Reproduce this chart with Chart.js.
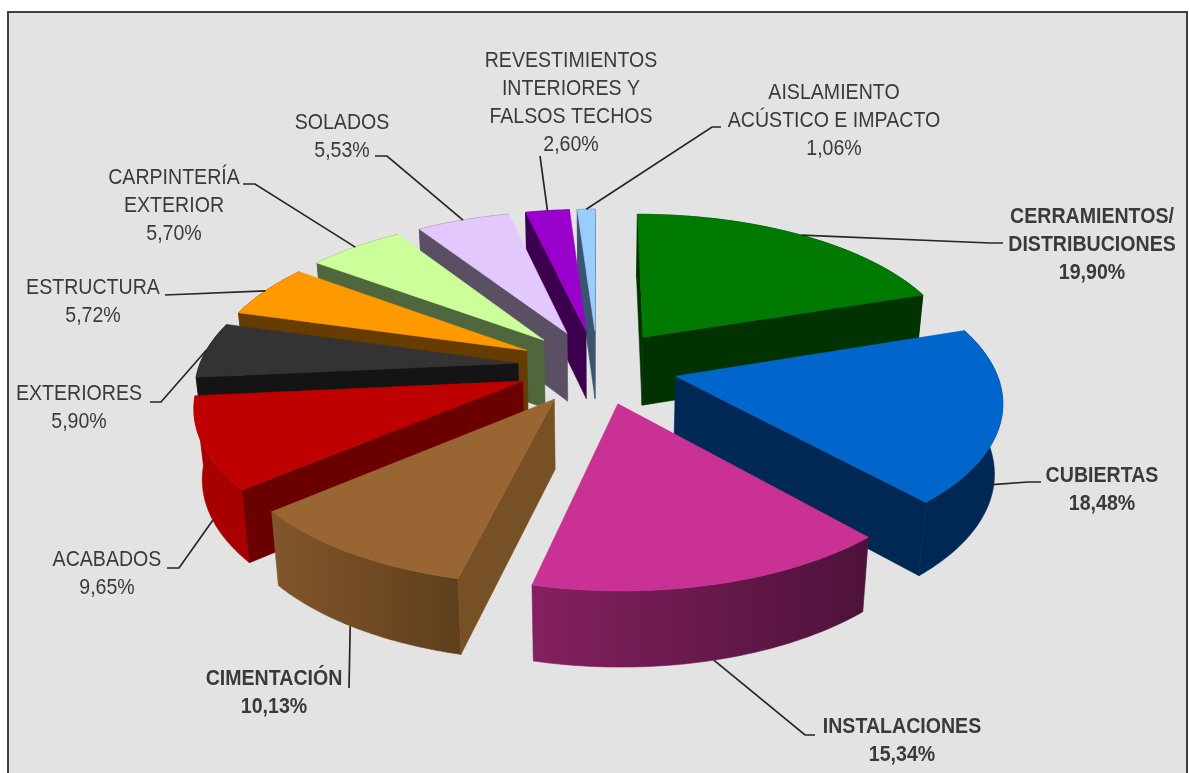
<!DOCTYPE html>
<html lang="es">
<head>
<meta charset="utf-8">
<title>Tarta 3D</title>
<script src="https://cdn.jsdelivr.net/npm/chart.js@4"></script>
<style>
    html, body { margin: 0; padding: 0; background: #fff; }
    canvas { display: block; }
</style>
</head>
<body>
<canvas id="tarta" width="1189" height="773"></canvas>
<script>
// Datos
const categories = [
    ['CERRAMIENTOS/', 'DISTRIBUCIONES'],
    ['CUBIERTAS'],
    ['INSTALACIONES'],
    ['CIMENTACIÓN'],
    ['ACABADOS'],
    ['EXTERIORES'],
    ['ESTRUCTURA'],
    ['CARPINTERÍA', 'EXTERIOR'],
    ['SOLADOS'],
    ['REVESTIMIENTOS', 'INTERIORES Y', 'FALSOS TECHOS'],
    ['AISLAMIENTO', 'ACÚSTICO E IMPACTO']
];
const values = [19.90, 18.48, 15.34, 10.13, 9.65, 5.90, 5.72, 5.70, 5.53, 2.60, 1.06];

// Colores: cara superior, paredes radiales y pared exterior (izquierda, derecha)
const topColors = ['#007a00', '#0066cc', '#c93194', '#996633', '#bf0000', '#333333', '#ff9900', '#ccff99', '#e2c8fc', '#9900cc', '#99ccff'];
const sideColors = ['#003300', '#002855', '#4d123a', '#775026', '#6b0000', '#141414', '#663c00', '#50663c', '#5a4f63', '#3d004f', '#3a5470'];
const rimLeft = ['#003300', '#002855', '#85205f', '#82562b', '#a80000', '#141414', '#663c00', '#50663c', '#5a4f63', '#3d004f', '#3a5470'];
const rimRight = ['#003300', '#002855', '#4d123a', '#5f3f1d', '#a80000', '#141414', '#663c00', '#50663c', '#5a4f63', '#3d004f', '#3a5470'];

// Etiquetas: centro del texto, primera linea, codo de la guia y punto de la tarta (fraccion de angulo, fraccion de altura)
const labelX = [1092, 1102, 902, 274, 107, 79, 93, 174, 342, 571, 834];
const labelY = [216, 475, 726, 678, 559, 393, 287, 177, 122, 60, 92];
const boldLabels = [true, true, true, true, false, false, false, false, false, false, false];
const elbows = [
    [[1003, 243], [990, 243]],
    [[1041, 482], [1028, 482]],
    [[815, 735], [805, 735]],
    [[349, 688]],
    [[167, 568], [179, 568]],
    [[150, 402], [161, 402]],
    [[165, 295]],
    [[243, 184], [255, 184]],
    [[375, 156], [387, 156]],
    [[540, 156]],
    [[721, 127], [712, 127]]
];
const leaderAngle = [0.5, 0.62, 0.5, 0.53, 0.45, 0.5, 0.5, 0.5, 0.5, 0.5, 0.5];
const leaderDepth = [0, 0.65, 1, 1, 1, 0, 0, 0, 0, 0, 0];

// Parametros de la perspectiva
const tilt = 0.465;
const persp = 0.00045;
const depth = 69;
const depthShrink = 0.0003;
const explode = 80;
const radius = 319;
const textWidth = 0.89;

function project(el, px, py, h) {
    const s = 1 / (1 - persp * py);
    return [el.x + s * px * (1 - depthShrink * h), el.y + s * tilt * py + h * Math.sqrt(s)];
}

function sliceOffset(el) {
    const mid = (el.startAngle + el.endAngle) / 2;
    return { ox: Math.cos(mid) * el.options.offset, oy: Math.sin(mid) * el.options.offset };
}

function polygon(ctx, pts, fill) {
    ctx.beginPath();
    pts.forEach((p, i) => i ? ctx.lineTo(p[0], p[1]) : ctx.moveTo(p[0], p[1]));
    ctx.closePath();
    ctx.fillStyle = fill;
    ctx.fill();
    ctx.strokeStyle = fill;
    ctx.lineWidth = 0.6;
    ctx.stroke();
}

function rimPoint(el, o, ang, h) {
    return project(el, o.ox + Math.cos(ang) * el.outerRadius, o.oy + Math.sin(ang) * el.outerRadius, h);
}

function drawSlice(ctx, el, i) {
    const o = sliceOffset(el);
    const apexTop = project(el, o.ox, o.oy, 0);
    const apexBot = project(el, o.ox, o.oy, depth);
    const rimTop = [], rimBot = [];
    const steps = 60;
    for (let n = 0; n <= steps; n++) {
        const a = el.startAngle + (el.endAngle - el.startAngle) * n / steps;
        rimTop.push(rimPoint(el, o, a, 0));
        rimBot.push(rimPoint(el, o, a, depth));
    }

    // Pared exterior con degradado horizontal
    const xs = rimTop.map(p => p[0]);
    const grad = ctx.createLinearGradient(Math.min(...xs), 0, Math.max(...xs), 0);
    grad.addColorStop(0, rimLeft[i]);
    grad.addColorStop(1, rimRight[i]);
    polygon(ctx, rimTop.concat(rimBot.slice().reverse()), grad);

    // Solo se ven las paredes radiales que miran al observador
    if (rimTop[0][0] < apexTop[0]) {
        polygon(ctx, [apexTop, rimTop[0], rimBot[0], apexBot], sideColors[i]);
    }
    if (rimTop[steps][0] > apexTop[0]) {
        polygon(ctx, [apexTop, rimTop[steps], rimBot[steps], apexBot], sideColors[i]);
    }
    polygon(ctx, [apexTop].concat(rimTop), topColors[i]);
}

function drawLabels(ctx, chart) {
    const arcs = chart.getDatasetMeta(0).data;
    ctx.textAlign = 'center';
    ctx.textBaseline = 'middle';
    categories.forEach((lines, i) => {
        const el = arcs[i];
        const o = sliceOffset(el);
        const ang = el.startAngle + (el.endAngle - el.startAngle) * leaderAngle[i];
        const end = rimPoint(el, o, ang, depth * leaderDepth[i]);
        ctx.beginPath();
        elbows[i].forEach((p, n) => n ? ctx.lineTo(p[0], p[1]) : ctx.moveTo(p[0], p[1]));
        ctx.lineTo(end[0], end[1]);
        ctx.strokeStyle = '#262626';
        ctx.lineWidth = 1.7;
        ctx.stroke();

        ctx.font = (boldLabels[i] ? 'bold ' : '') + '22px "Liberation Sans", sans-serif';
        ctx.fillStyle = '#3a3a3a';
        const text = lines.concat(values[i].toFixed(2).replace('.', ',') + '%');
        text.forEach((t, n) => {
            ctx.save();
            ctx.translate(labelX[i], labelY[i] + 1 + n * 28);
            ctx.scale(textWidth, 1);
            ctx.fillText(t, 0, 0);
            ctx.restore();
        });
    });
}

const tarta3d = {
    id: 'tarta3d',
    beforeDraw(chart) {
        const ctx = chart.ctx;
        ctx.save();
        ctx.fillStyle = '#ffffff';
        ctx.fillRect(0, 0, chart.width, chart.height);
        ctx.fillStyle = '#e3e3e3';
        ctx.strokeStyle = '#404040';
        ctx.lineWidth = 2;
        ctx.fillRect(8, 12, 1179, 770);
        ctx.strokeRect(8, 12, 1179, 770);
        ctx.restore();
    },
    // La tarta se dibuja a mano desde los arcos que calcula Chart.js
    beforeDatasetsDraw(chart) {
        const ctx = chart.ctx;
        const arcs = chart.getDatasetMeta(0).data;
        const order = arcs.map((el, i) => i).sort((a, b) => {
            return Math.sin((arcs[a].startAngle + arcs[a].endAngle) / 2) - Math.sin((arcs[b].startAngle + arcs[b].endAngle) / 2);
        });
        ctx.save();
        order.forEach(i => drawSlice(ctx, arcs[i], i));
        drawLabels(ctx, chart);
        ctx.restore();
        return false;
    }
};

new Chart(document.getElementById('tarta'), {
    type: 'pie',
    data: {
        labels: categories,
        datasets: [{ data: values, backgroundColor: topColors, borderWidth: 0, offset: explode }]
    },
    options: {
        responsive: false,
        animation: false,
        events: [],
        radius: radius,
        layout: { padding: { left: 6, right: 0, top: 0, bottom: 40 } },
        plugins: { legend: { display: false }, tooltip: { enabled: false } }
    },
    plugins: [tarta3d]
});
</script>
</body>
</html>
